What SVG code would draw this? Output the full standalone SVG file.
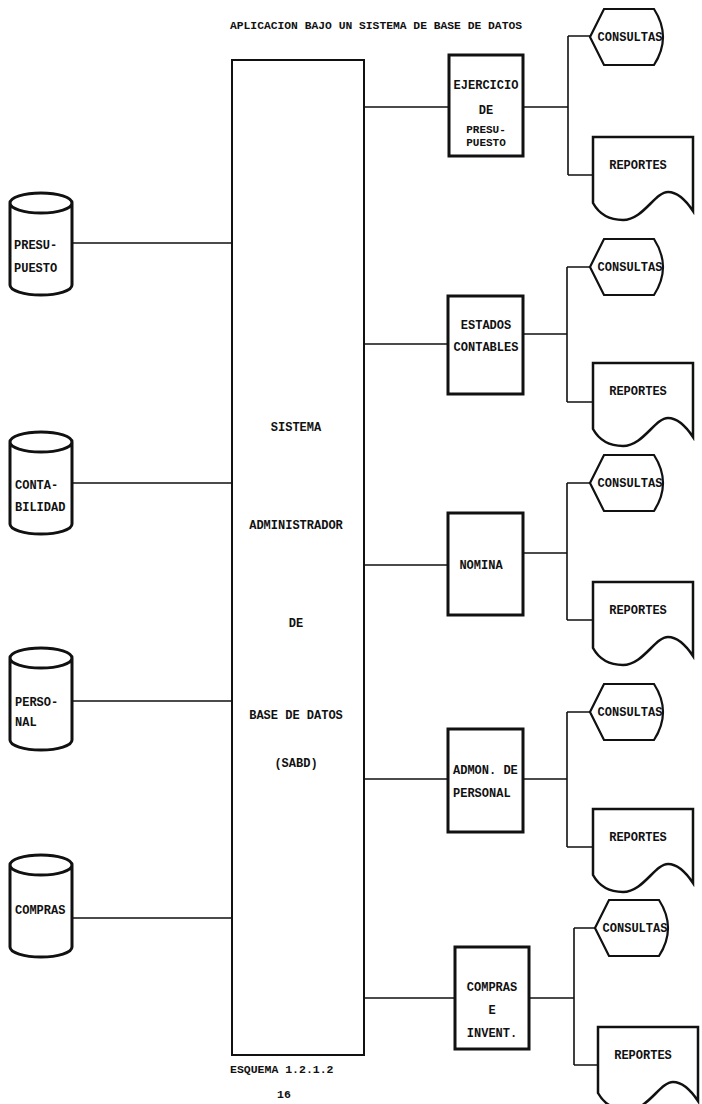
<svg xmlns="http://www.w3.org/2000/svg" width="702" height="1104" viewBox="0 0 702 1104">
<defs>
<style>
text{font-family:"Liberation Mono","DejaVu Sans Mono",monospace;font-weight:bold;font-size:12px;fill:#111;}
.m{text-anchor:middle;}
.t{font-size:11.5px;font-weight:900;}
.s{font-size:11px;}
.proc{fill:#fff;stroke:#111;stroke-width:3;}
.main{fill:#fff;stroke:#111;stroke-width:2;}
.cyl{fill:#fff;stroke:#111;stroke-width:3;}
.doc{fill:#fff;stroke:#111;stroke-width:2.5;}
.disp{fill:#fff;stroke:#111;stroke-width:2.2;}
.ln{fill:none;stroke:#111;stroke-width:1.6;}
</style>
<path id="cylshape" d="M0,10 A31,10 0 0 1 62,10 V92 A31,10 0 0 1 0,92 Z M0,10 A31,10 0 0 0 62,10"/>
<path id="docshape" d="M0,0 H100 V74 C92,62 84,55 75,55 C62,55 50,83 30,83 C14,83 5,75 0,66 Z"/>
<path id="dispshape" d="M0,28 L14,0 H64 Q82,28 64,56 H14 Z"/>
</defs>
<rect width="702" height="1104" fill="#fff"/>

<text x="376" y="29" class="m t" textLength="292" lengthAdjust="spacingAndGlyphs">APLICACION BAJO UN SISTEMA DE BASE DE DATOS</text>

<g id="connectors">
<path class="ln" d="M72,243 H232 M72,483 H232 M72,701 H232 M72,918 H232"/>
<path class="ln" d="M364,107 H449 M364,344 H448 M364,565 H448 M364,779 H448 M364,998 H455"/>
<path class="ln" d="M523,107 H568 M568,36 V175 M568,36 H592 M568,175 H593"/>
<path class="ln" d="M523,334 H567 M567,267 V402 M567,267 H592 M567,402 H593"/>
<path class="ln" d="M523,553 H567 M567,483 V620 M567,483 H592 M567,620 H593"/>
<path class="ln" d="M523,779 H567 M567,712 V847 M567,712 H592 M567,847 H593"/>
<path class="ln" d="M529,998 H574 M574,928 V1065 M574,928 H595 M574,1065 H598"/>
</g>

<g id="sabd">
<rect class="main" x="232" y="60" width="132" height="995"/>
<text x="296" y="431" class="m">SISTEMA</text>
<text x="296" y="529" class="m">ADMINISTRADOR</text>
<text x="296" y="627" class="m">DE</text>
<text x="296" y="719" class="m">BASE DE DATOS</text>
<text x="296" y="767" class="m">(SABD)</text>
</g>

<g id="db-presupuesto">
<use href="#cylshape" class="cyl" x="10" y="193"/>
<text x="14" y="249">PRESU-</text>
<text x="14" y="272">PUESTO</text>
</g>
<g id="db-contabilidad">
<use href="#cylshape" class="cyl" x="10" y="432"/>
<text x="15" y="489">CONTA-</text>
<text x="15" y="511">BILIDAD</text>
</g>
<g id="db-personal">
<use href="#cylshape" class="cyl" x="10" y="648"/>
<text x="15" y="706">PERSO-</text>
<text x="15" y="726">NAL</text>
</g>
<g id="db-compras">
<use href="#cylshape" class="cyl" x="10" y="855"/>
<text x="15" y="914">COMPRAS</text>
</g>

<g id="p-ejercicio">
<rect class="proc" x="449" y="55" width="74" height="101"/>
<text x="486" y="89" class="m">EJERCICIO</text>
<text x="486" y="114" class="m">DE</text>
<text x="486" y="133" class="m s">PRESU-</text>
<text x="486" y="146" class="m s">PUESTO</text>
</g>
<g id="p-estados">
<rect class="proc" x="448" y="296" width="75" height="98"/>
<text x="486" y="329" class="m">ESTADOS</text>
<text x="486" y="351" class="m">CONTABLES</text>
</g>
<g id="p-nomina">
<rect class="proc" x="448" y="513" width="75" height="102"/>
<text x="481" y="569" class="m">NOMINA</text>
</g>
<g id="p-admon">
<rect class="proc" x="448" y="729" width="75" height="103"/>
<text x="453" y="774">ADMON. DE</text>
<text x="453" y="797">PERSONAL</text>
</g>
<g id="p-compras">
<rect class="proc" x="455" y="947" width="74" height="102"/>
<text x="492" y="991" class="m">COMPRAS</text>
<text x="492" y="1014" class="m">E</text>
<text x="492" y="1037" class="m">INVENT.</text>
</g>

<g id="c1"><use href="#dispshape" class="disp" x="590" y="9"/><text x="630" y="41" class="m">CONSULTAS</text></g>
<g id="r1"><use href="#docshape" class="doc" x="593" y="137"/><text x="638" y="169" class="m">REPORTES</text></g>
<g id="c2"><use href="#dispshape" class="disp" x="590" y="239"/><text x="630" y="271" class="m">CONSULTAS</text></g>
<g id="r2"><use href="#docshape" class="doc" x="593" y="363"/><text x="638" y="395" class="m">REPORTES</text></g>
<g id="c3"><use href="#dispshape" class="disp" x="590" y="455"/><text x="630" y="487" class="m">CONSULTAS</text></g>
<g id="r3"><use href="#docshape" class="doc" x="593" y="582"/><text x="638" y="614" class="m">REPORTES</text></g>
<g id="c4"><use href="#dispshape" class="disp" x="590" y="684"/><text x="630" y="716" class="m">CONSULTAS</text></g>
<g id="r4"><use href="#docshape" class="doc" x="593" y="809"/><text x="638" y="841" class="m">REPORTES</text></g>
<g id="c5"><use href="#dispshape" class="disp" x="595" y="900"/><text x="635" y="932" class="m">CONSULTAS</text></g>
<g id="r5"><use href="#docshape" class="doc" x="598" y="1027"/><text x="643" y="1059" class="m">REPORTES</text></g>

<text x="230" y="1073" class="t" font-size="12">ESQUEMA 1.2.1.2</text>
<text x="284" y="1098" class="m t">16</text>
</svg>
